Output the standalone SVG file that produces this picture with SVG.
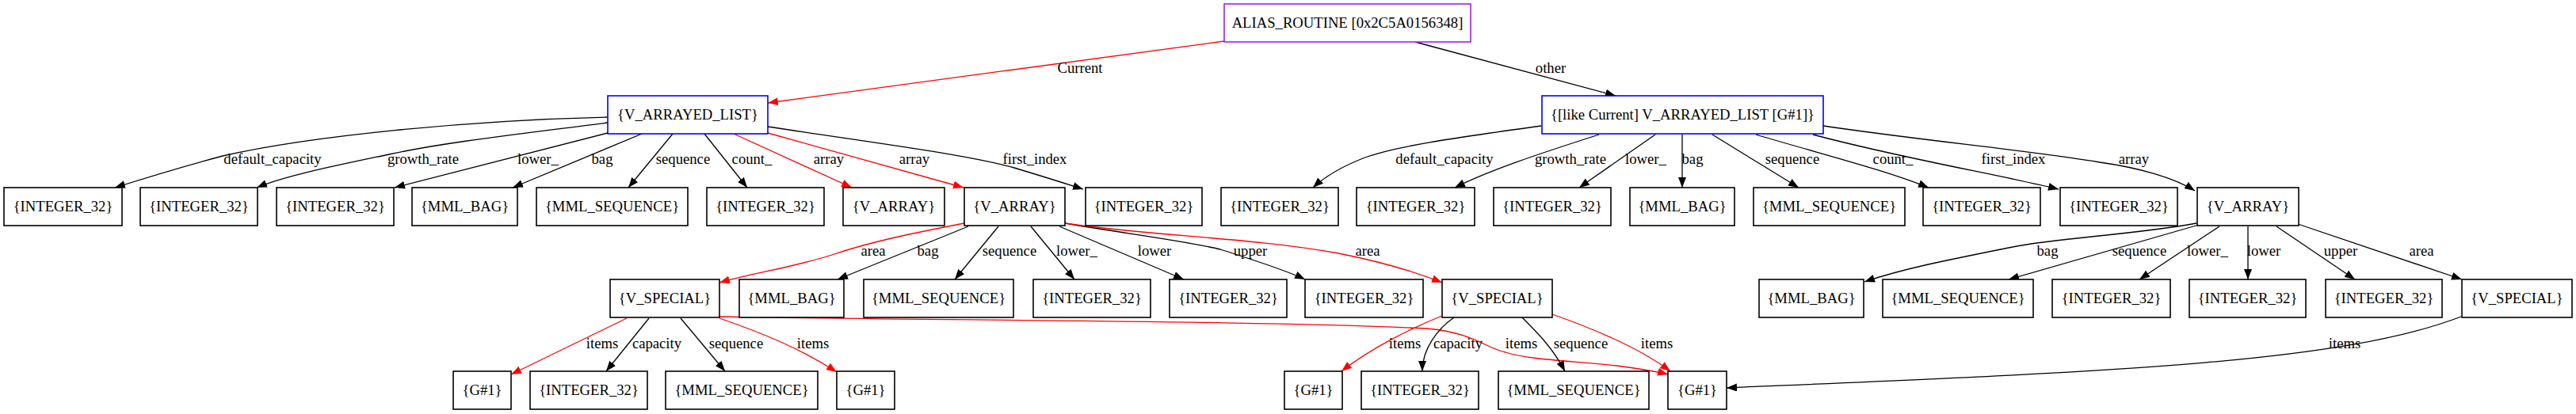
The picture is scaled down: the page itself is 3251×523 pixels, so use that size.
<svg xmlns="http://www.w3.org/2000/svg" width="3251" height="523" viewBox="0 0 3251 523">
<style>
text{font-family:"Liberation Serif","Times New Roman",serif;font-size:18.67px;fill:#000;text-anchor:middle}
.n rect{fill:#fff;stroke:#000;stroke-width:1.6}
.n.p rect{stroke:#a020f0}
.n.b rect{stroke:#0000ff}
.e path{fill:none;stroke:#000;stroke-width:1.3}
.e path.r{stroke:#ff0000}
</style>
<defs>
<marker id="ab" markerUnits="userSpaceOnUse" markerWidth="14" markerHeight="10" refX="13" refY="5" orient="auto"><path d="M0,0 L13,5 L0,10 z" fill="#000"/></marker>
<marker id="ar" markerUnits="userSpaceOnUse" markerWidth="14" markerHeight="10" refX="13" refY="5" orient="auto"><path d="M0,0 L13,5 L0,10 z" fill="#ff0000"/></marker>
</defs>
<rect width="3251" height="523" fill="#fff"/>
<g id="edges" class="e">
<path class="r" marker-end="url(#ar)" d="M1545,52 L969,130"/>
<path marker-end="url(#ab)" d="M1786,53 L2039,121"/>
<path marker-end="url(#ab)" d="M767,148 C590,152 390,172 281,197 C225,212 180,226 145,237"/>
<path marker-end="url(#ab)" d="M767,155 C650,170 560,180 491,195 C420,210 360,222 324,237"/>
<path marker-end="url(#ab)" d="M767,168 C700,185 600,210 498,237"/>
<path marker-end="url(#ab)" d="M810,169 L647,237"/>
<path marker-end="url(#ab)" d="M849,169 L793,237"/>
<path marker-end="url(#ab)" d="M889,169 L943,237"/>
<path class="r" marker-end="url(#ar)" d="M926,169 L1075,237"/>
<path class="r" marker-end="url(#ar)" d="M969,168 L1216,237"/>
<path marker-end="url(#ab)" d="M969,160 C1100,180 1220,195 1280,212 C1320,224 1345,232 1367,239"/>
<path marker-end="url(#ab)" d="M1945,159 C1830,175 1760,185 1720,200 C1690,212 1670,225 1657,237"/>
<path marker-end="url(#ab)" d="M2018,170 C1940,195 1880,215 1836,237"/>
<path marker-end="url(#ab)" d="M2089,170 L1993,237"/>
<path marker-end="url(#ab)" d="M2123,170 L2123,237"/>
<path marker-end="url(#ab)" d="M2161,170 L2270,237"/>
<path marker-end="url(#ab)" d="M2216,170 C2300,195 2380,215 2434,237"/>
<path marker-end="url(#ab)" d="M2288,170 C2400,200 2520,220 2598,239"/>
<path marker-end="url(#ab)" d="M2301,159 C2430,178 2560,190 2650,205 C2700,212 2745,225 2770,241"/>
<path class="r" marker-end="url(#ar)" d="M1217,282 C1150,295 1100,305 1050,322 C1000,338 950,345 908,357"/>
<path marker-end="url(#ab)" d="M1222,286 L1057,353"/>
<path marker-end="url(#ab)" d="M1260,286 L1205,353"/>
<path marker-end="url(#ab)" d="M1301,286 L1356,353"/>
<path marker-end="url(#ab)" d="M1337,286 L1494,353"/>
<path marker-end="url(#ab)" d="M1344,282 C1420,295 1500,305 1540,315 C1580,328 1620,340 1647,353"/>
<path class="r" marker-end="url(#ar)" d="M1344,282 C1450,298 1580,300 1689,320 C1750,332 1790,345 1820,357"/>
<path marker-end="url(#ab)" d="M2772,282 C2690,297 2600,300 2540,312 C2450,330 2400,340 2353,356"/>
<path marker-end="url(#ab)" d="M2775,284 L2535,353"/>
<path marker-end="url(#ab)" d="M2801,286 L2700,353"/>
<path marker-end="url(#ab)" d="M2837,286 L2837,353"/>
<path marker-end="url(#ab)" d="M2873,286 L2972,353"/>
<path marker-end="url(#ab)" d="M2900,283 L3107,353"/>
<path class="r" marker-end="url(#ar)" d="M791,402 L645,473"/>
<path marker-end="url(#ab)" d="M819,402 L765,469"/>
<path marker-end="url(#ab)" d="M859,402 L915,469"/>
<path class="r" marker-end="url(#ar)" d="M908,402 C960,420 1010,440 1056,470"/>
<path class="r" marker-end="url(#ar)" d="M908,400 C1200,405 1600,405 1800,415 C1860,420 1875,440 1900,445 C1930,455 1990,456 2040,462 C2070,466 2090,469 2105,473"/>
<path class="r" marker-end="url(#ar)" d="M1820,399 C1780,415 1730,440 1693,469"/>
<path marker-end="url(#ab)" d="M1835,401 C1815,415 1795,440 1795,469"/>
<path marker-end="url(#ab)" d="M1921,401 C1940,420 1960,440 1975,469"/>
<path class="r" marker-end="url(#ar)" d="M1959,397 C2010,415 2070,440 2108,469"/>
<path marker-end="url(#ab)" d="M3106,400 C2950,460 2650,470 2179,490"/>
<text x="1363" y="92">Current</text>
<text x="1957" y="92">other</text>
<text x="344" y="207">default_capacity</text>
<text x="534" y="207">growth_rate</text>
<text x="679" y="207">lower_</text>
<text x="760" y="207">bag</text>
<text x="862" y="207">sequence</text>
<text x="949" y="207">count_</text>
<text x="1046" y="207">array</text>
<text x="1154" y="207">array</text>
<text x="1306" y="207">first_index</text>
<text x="1823" y="207">default_capacity</text>
<text x="1982" y="207">growth_rate</text>
<text x="2077" y="207">lower_</text>
<text x="2136" y="207">bag</text>
<text x="2262" y="207">sequence</text>
<text x="2389" y="207">count_</text>
<text x="2541" y="207">first_index</text>
<text x="2693" y="207">array</text>
<text x="1102" y="323">area</text>
<text x="1171" y="323">bag</text>
<text x="1274" y="323">sequence</text>
<text x="1359" y="323">lower_</text>
<text x="1457" y="323">lower</text>
<text x="1578" y="323">upper</text>
<text x="1726" y="323">area</text>
<text x="2584" y="323">bag</text>
<text x="2700" y="323">sequence</text>
<text x="2786" y="323">lower_</text>
<text x="2857" y="323">lower</text>
<text x="2954" y="323">upper</text>
<text x="3056" y="323">area</text>
<text x="760" y="440">items</text>
<text x="829" y="440">capacity</text>
<text x="929" y="440">sequence</text>
<text x="1026" y="440">items</text>
<text x="1773" y="440">items</text>
<text x="1840" y="440">capacity</text>
<text x="1920" y="440">items</text>
<text x="1995" y="440">sequence</text>
<text x="2091" y="440">items</text>
<text x="2959" y="440">items</text>
</g>
<g id="n_alias" class="n p"><rect x="1545" y="5" width="311" height="48"/><text x="1700.5" y="35">ALIAS_ROUTINE [0x2C5A0156348]</text></g>
<g id="n_current" class="n b"><rect x="767" y="121" width="202" height="48"/><text x="868" y="151">{V_ARRAYED_LIST}</text></g>
<g id="n_other" class="n b"><rect x="1946" y="121" width="355" height="48"/><text x="2123.5" y="151">{[like Current] V_ARRAYED_LIST [G#1]}</text></g>
<g id="c_default_capacity" class="n"><rect x="5" y="237" width="149" height="48"/><text x="79.5" y="267">{INTEGER_32}</text></g>
<g id="c_growth_rate" class="n"><rect x="177" y="237" width="148" height="48"/><text x="251" y="267">{INTEGER_32}</text></g>
<g id="c_lower_" class="n"><rect x="349" y="237" width="148" height="48"/><text x="423" y="267">{INTEGER_32}</text></g>
<g id="c_bag" class="n"><rect x="520" y="237" width="133" height="48"/><text x="586.5" y="267">{MML_BAG}</text></g>
<g id="c_sequence" class="n"><rect x="677" y="237" width="191" height="48"/><text x="772.5" y="267">{MML_SEQUENCE}</text></g>
<g id="c_count_" class="n"><rect x="892" y="237" width="148" height="48"/><text x="966" y="267">{INTEGER_32}</text></g>
<g id="c_array1" class="n"><rect x="1064" y="237" width="128" height="48"/><text x="1128" y="267">{V_ARRAY}</text></g>
<g id="c_array2" class="n"><rect x="1217" y="237" width="127" height="48"/><text x="1280.5" y="267">{V_ARRAY}</text></g>
<g id="c_first_index" class="n"><rect x="1370" y="237" width="147" height="48"/><text x="1443.5" y="267">{INTEGER_32}</text></g>
<g id="o_default_capacity" class="n"><rect x="1541" y="237" width="148" height="48"/><text x="1615" y="267">{INTEGER_32}</text></g>
<g id="o_growth_rate" class="n"><rect x="1712" y="237" width="149" height="48"/><text x="1786.5" y="267">{INTEGER_32}</text></g>
<g id="o_lower_" class="n"><rect x="1885" y="237" width="148" height="48"/><text x="1959" y="267">{INTEGER_32}</text></g>
<g id="o_bag" class="n"><rect x="2057" y="237" width="132" height="48"/><text x="2123" y="267">{MML_BAG}</text></g>
<g id="o_sequence" class="n"><rect x="2213" y="237" width="191" height="48"/><text x="2308.5" y="267">{MML_SEQUENCE}</text></g>
<g id="o_count_" class="n"><rect x="2427" y="237" width="148" height="48"/><text x="2501" y="267">{INTEGER_32}</text></g>
<g id="o_first_index" class="n"><rect x="2600" y="237" width="148" height="48"/><text x="2674" y="267">{INTEGER_32}</text></g>
<g id="o_array" class="n"><rect x="2773" y="237" width="128" height="48"/><text x="2837" y="267">{V_ARRAY}</text></g>
<g id="a_area1" class="n"><rect x="770" y="353" width="138" height="48"/><text x="839" y="383">{V_SPECIAL}</text></g>
<g id="a_bag" class="n"><rect x="933" y="353" width="132" height="48"/><text x="999" y="383">{MML_BAG}</text></g>
<g id="a_sequence" class="n"><rect x="1090" y="353" width="189" height="48"/><text x="1184.5" y="383">{MML_SEQUENCE}</text></g>
<g id="a_lower_" class="n"><rect x="1304" y="353" width="148" height="48"/><text x="1378" y="383">{INTEGER_32}</text></g>
<g id="a_lower" class="n"><rect x="1476" y="353" width="148" height="48"/><text x="1550" y="383">{INTEGER_32}</text></g>
<g id="a_upper" class="n"><rect x="1647" y="353" width="149" height="48"/><text x="1721.5" y="383">{INTEGER_32}</text></g>
<g id="a_area2" class="n"><rect x="1820" y="353" width="139" height="48"/><text x="1889.5" y="383">{V_SPECIAL}</text></g>
<g id="b_bag" class="n"><rect x="2220" y="353" width="132" height="48"/><text x="2286" y="383">{MML_BAG}</text></g>
<g id="b_sequence" class="n"><rect x="2376" y="353" width="190" height="48"/><text x="2471" y="383">{MML_SEQUENCE}</text></g>
<g id="b_lower_" class="n"><rect x="2590" y="353" width="149" height="48"/><text x="2664.5" y="383">{INTEGER_32}</text></g>
<g id="b_lower" class="n"><rect x="2763" y="353" width="147" height="48"/><text x="2836.5" y="383">{INTEGER_32}</text></g>
<g id="b_upper" class="n"><rect x="2935" y="353" width="147" height="48"/><text x="3008.5" y="383">{INTEGER_32}</text></g>
<g id="b_area" class="n"><rect x="3107" y="353" width="139" height="48"/><text x="3176.5" y="383">{V_SPECIAL}</text></g>
<g id="s1_items" class="n"><rect x="572" y="469" width="73" height="48"/><text x="608.5" y="499">{G#1}</text></g>
<g id="s1_capacity" class="n"><rect x="669" y="469" width="148" height="48"/><text x="743" y="499">{INTEGER_32}</text></g>
<g id="s1_sequence" class="n"><rect x="840" y="469" width="192" height="48"/><text x="936" y="499">{MML_SEQUENCE}</text></g>
<g id="s1_items2" class="n"><rect x="1056" y="469" width="73" height="48"/><text x="1092.5" y="499">{G#1}</text></g>
<g id="s2_items" class="n"><rect x="1621" y="469" width="73" height="48"/><text x="1657.5" y="499">{G#1}</text></g>
<g id="s2_capacity" class="n"><rect x="1718" y="469" width="148" height="48"/><text x="1792" y="499">{INTEGER_32}</text></g>
<g id="s2_sequence" class="n"><rect x="1891" y="469" width="190" height="48"/><text x="1986" y="499">{MML_SEQUENCE}</text></g>
<g id="g1" class="n"><rect x="2105" y="469" width="74" height="48"/><text x="2142" y="499">{G#1}</text></g>
</svg>
